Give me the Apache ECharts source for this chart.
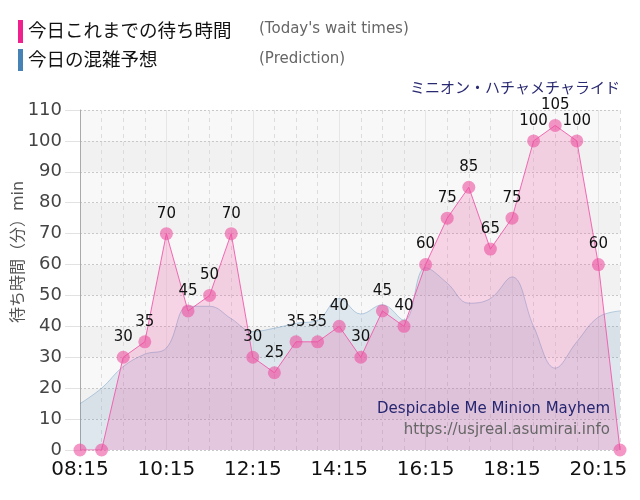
<!DOCTYPE html>
<html><head><meta charset="utf-8">
<script src="https://cdn.jsdelivr.net/npm/echarts@6/dist/echarts.min.js"></script>
<style>html,body{margin:0;padding:0;background:#fff}#c{width:640px;height:500px}</style>
</head><body><div id="c"></div>
<script>
const times = ["08:15","08:45","09:15","09:45","10:15","10:45","11:15","11:45","12:15","12:45","13:15","13:45","14:15","14:45","15:15","15:45","16:15","16:45","17:15","17:45","18:15","18:45","19:15","19:45","20:15","20:45"];
const waitTimes = [0,0,30,35,70,45,50,70,30,25,35,35,40,30,45,40,60,75,85,65,75,100,105,100,60,0];
const prediction = [15,20,27,31,33,46.5,46.5,42.5,38.3,39.4,41,42,49,44,47,42,59,54,47.5,49,56,40,26.5,35,43,45];
const yTicks = [0,10,20,30,40,50,60,70,80,90,100,110];

const FONT = "'DejaVu Sans','Noto Sans CJK JP',sans-serif";
const chart = echarts.init(document.getElementById('c'), null, {renderer:'canvas'});
chart.setOption({
  animation:false,
  backgroundColor:'#fff',
  textStyle:{fontFamily:FONT},
  grid:{left:80,right:20,top:110,bottom:50,containLabel:false,outerBoundsMode:'none'},
  xAxis:[{
    type:'category', data:times, boundaryGap:false,
    axisLine:{show:false}, axisTick:{show:false},
    axisLabel:{interval:3, fontSize:20, color:'#111', margin:10, fontFamily:FONT},
    splitLine:{show:true, interval:0, lineStyle:{type:[4,4], color:'#dcdcdc', width:1}}
  },{
    type:'category', data:times, boundaryGap:false, position:'bottom',
    axisLine:{show:false}, axisTick:{show:false}, axisLabel:{show:false},
    splitLine:{show:true, interval:3, lineStyle:{type:'solid', color:'#e6e6e6', width:1}}
  }],
  yAxis:{
    type:'value', min:yTicks[0], max:yTicks[yTicks.length-1], interval:10,
    axisLine:{show:true, lineStyle:{color:'#aaa', width:1}},
    axisTick:{show:true, length:15, lineStyle:{color:'#e2e2e2'}},
    axisLabel:{fontSize:18, color:'#444', margin:18, fontFamily:FONT},
    splitLine:{show:true, lineStyle:{type:[2,2], color:'#c8c8c8', width:1}},
    splitArea:{show:true, areaStyle:{color:['#f8f8f8','#f1f1f1']}}
  },
  series:[{
    name:'prediction', type:'line', data:prediction, smooth:0.4, symbol:'none',
    lineStyle:{color:'rgba(70,130,180,0.35)', width:1},
    areaStyle:{color:'rgba(70,130,180,0.2)', origin:'start'},
    z:2
  },{
    name:'wait', type:'line', data:waitTimes, smooth:false,
    symbol:'circle', symbolSize:13, showAllSymbol:true,
    itemStyle:{color:'rgba(236,80,160,0.6)'},
    lineStyle:{color:'rgba(240,90,170,0.9)', width:1},
    areaStyle:{color:'rgba(240,80,165,0.3)', origin:'start'},
    label:{show:true, position:'top', distance:6, fontSize:15, color:'#111', fontFamily:FONT,
      formatter:function(p){return (p.dataIndex===0||p.dataIndex===1||p.dataIndex===times.length-1)?'':p.value;}},
    z:3
  }],
  graphic:[
    {type:'rect', left:18, top:20, shape:{width:5, height:23}, style:{fill:'#f0208c'}},
    {type:'text', left:28, top:21, style:{text:'今日これまでの待ち時間', font:"18.5px 'Noto Sans CJK JP'", fill:'#111'}},
    {type:'text', left:259, top:22, style:{text:"(Today's wait times)", font:"15px "+FONT, fill:'#666'}},
    {type:'rect', left:18, top:49, shape:{width:5, height:22}, style:{fill:'#4682b4'}},
    {type:'text', left:28, top:50, style:{text:'今日の混雑予想', font:"18.5px 'Noto Sans CJK JP'", fill:'#111'}},
    {type:'text', left:259, top:52, style:{text:"(Prediction)", font:"15px "+FONT, fill:'#666'}},
    {type:'text', x:19, y:252, rotation:Math.PI/2, style:{text:'待ち時間（分）min', font:"16px "+FONT, fill:'#555', align:'center', verticalAlign:'middle'}},
    {type:'text', right:20, top:80, style:{text:'ミニオン・ハチャメチャライド', font:"15px 'Noto Sans CJK JP'", fill:'#2a2a72'}},
    {type:'text', right:30, top:402, z:10, style:{text:'Despicable Me Minion Mayhem', font:"15px "+FONT, fill:'#262670'}},
    {type:'text', right:30, top:423, z:10, style:{text:'https://usjreal.asumirai.info', font:"15px "+FONT, fill:'#666'}}
  ]
});
</script></body></html>
